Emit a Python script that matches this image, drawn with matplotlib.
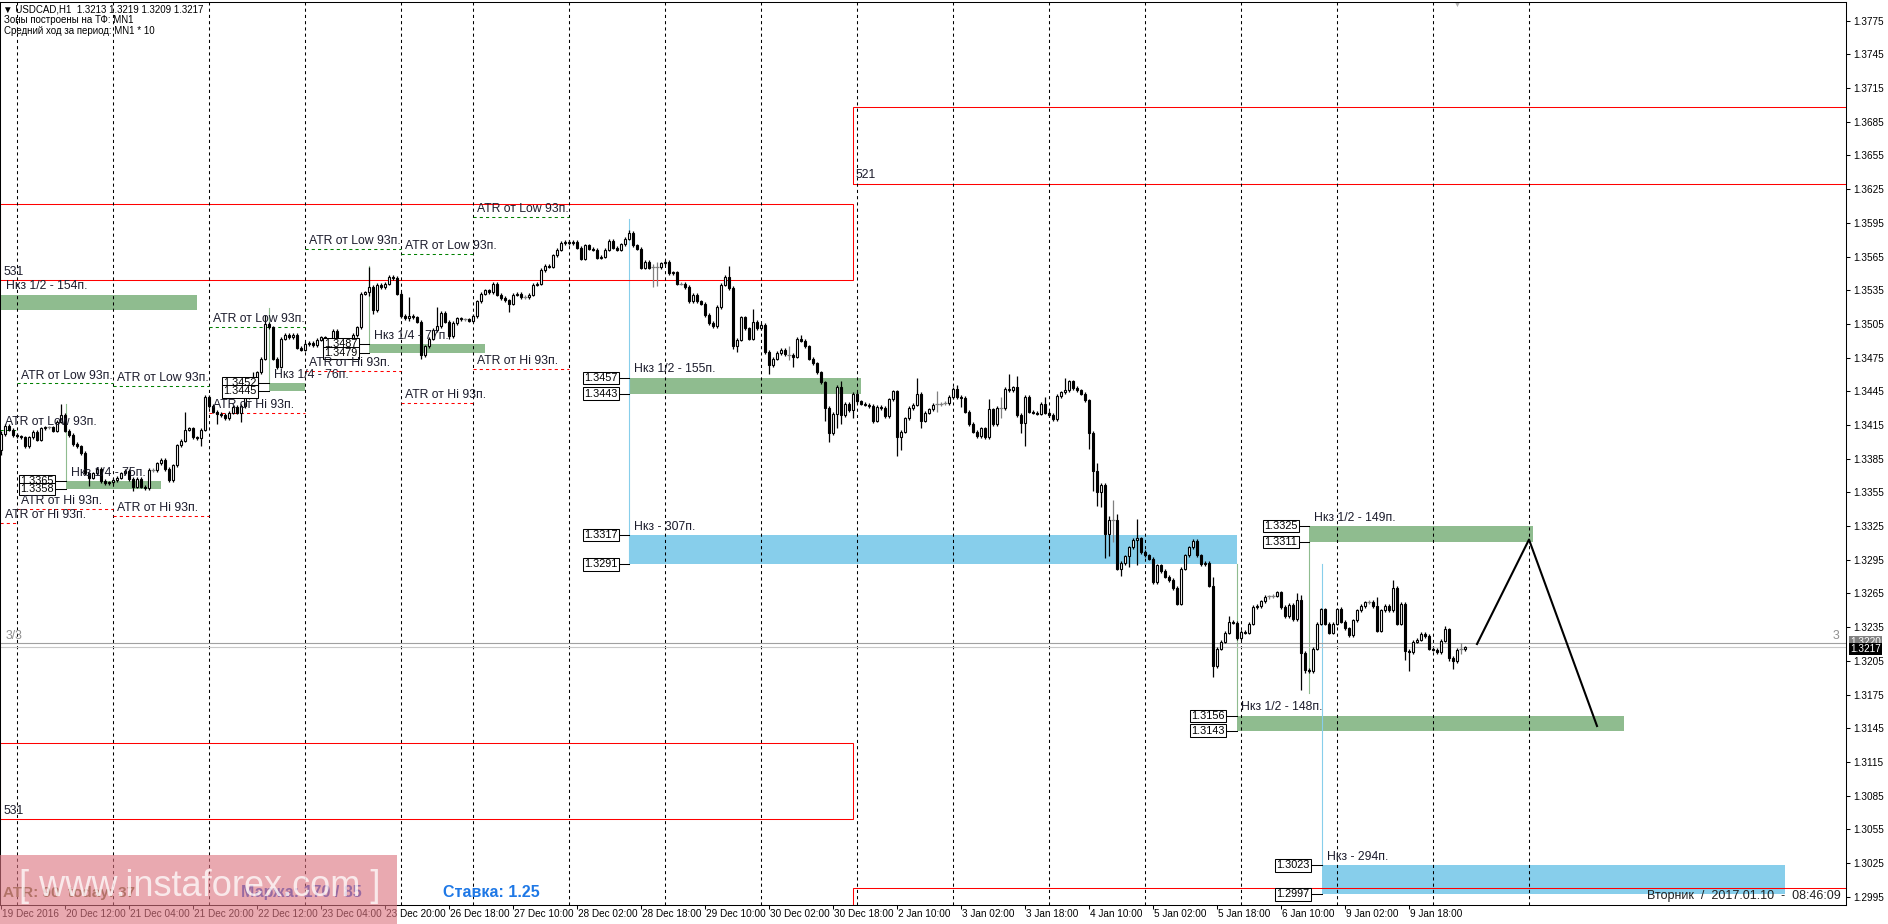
import numpy as np
from matplotlib import pyplot as plt
from matplotlib import rcParams
from matplotlib.patches import Rectangle

rcParams['font.family'] = ['Liberation Sans', 'DejaVu Sans']
rcParams['font.size'] = 8
rcParams['axes.linewidth'] = 0.75

W, H = 1888, 924
BASE = 1.3

# H1 bars 19 Dec 2016 20:00 .. 10 Jan 2017 08:00, close in pips above 1.3000
first_open = 393
close_pips = [
    407, 414, 411, 406, 405, 404, 396, 404, 409, 402,
    412, 413, 413, 410, 418, 424, 410, 406, 398, 396,
    390, 372, 368, 372, 376, 365, 363, 364, 366, 368,
    372, 374, 367, 360, 367, 360, 359, 375, 375, 381,
    384, 376, 366, 379, 397, 401, 411, 412, 404, 403,
    411, 440, 432, 427, 425, 424, 421, 426, 431, 426,
    432, 440, 446, 449, 462, 474, 505, 502, 474, 467,
    492, 495, 493, 495, 484, 482, 487, 488, 486, 491,
    493, 484, 482, 499, 490, 490, 488, 485, 495, 502,
    532, 533, 538, 517, 540, 538, 541, 547, 546, 532,
    512, 510, 512, 511, 507, 477, 485, 492, 500, 503,
    515, 507, 494, 506, 510, 509, 509, 508, 512, 525,
    532, 535, 533, 541, 531, 528, 526, 523, 531, 532,
    529, 529, 531, 540, 541, 553, 557, 556, 566, 571,
    577, 578, 577, 578, 573, 563, 575, 572, 571, 564,
    565, 571, 579, 573, 571, 576, 581, 586, 575, 572,
    555, 560, 555, 555.4, 555.8, 559, 560, 550, 551, 541,
    541, 538, 525, 531, 525, 523, 513, 506, 503, 520,
    540, 547, 537, 485, 491, 511, 501, 492, 507, 501,
    504, 480, 468, 474, 479, 482, 478, 477.6, 476, 492,
    490, 485, 474, 470, 462, 453, 430, 408, 425, 449,
    424, 434, 428, 443, 436, 434, 433, 432, 419, 431,
    430, 423, 438, 445, 404, 409, 421, 430, 433, 443,
    419, 426, 429, 433, 433.4, 434, 434.5, 440, 447, 440,
    439, 427, 416, 409, 405, 412, 404, 429, 416, 430,
    430.3, 447, 446, 448.5, 424, 416.5, 440, 427, 426, 425,
    434, 426, 424, 420, 441, 444, 446, 454, 448, 446,
    443, 437, 408, 374, 355, 362, 318, 330, 330.3, 287,
    292, 298, 306, 313, 314, 302, 299, 296, 275, 290,
    285, 280, 277, 270, 256, 287, 299, 306, 312, 299,
    291, 292, 272, 200, 216, 222, 230, 240, 239, 225,
    231, 230, 238, 253, 254, 258, 262, 262.5, 263, 266,
    253, 245, 255, 242, 259, 212, 197, 196, 216, 238,
    251, 238, 230, 238, 251, 240, 234, 228, 241, 250,
    254, 257, 257.5, 254, 232, 250, 254, 250, 270, 238,
    256, 214, 213, 222, 224, 229, 227, 216, 215, 213,
    223, 233, 208, 205, 215, 215.3, 217,
]
# long shadows: bar -> (high, low) in pips
wick_pips = {
    0: (410, 388), 15: (434, 418), 22: (372, 361), 33: (367, 356), 36: (362, 357),
    46: (427, 400), 50: (411, 396), 54: (428, 416), 60: (432, 418), 63: (462, 446),
    66: (513, 474), 69: (474, 465), 92: (556, 530), 93: (540, 514), 102: (529, 508),
    105: (507, 474), 109: (520, 498), 112: (507, 492), 127: (526, 516), 157: (589, 580),
    163: (558, 538), 164: (560, 539), 182: (557, 535), 183: (537, 483), 184: (491, 480),
    188: (518, 491), 192: (480, 460), 197: (485, 473), 198: (478, 467), 200: (495, 489),
    206: (453, 419), 207: (430, 400), 209: (449, 412), 210: (454, 416), 213: (443, 421),
    218: (432, 417), 224: (445, 387), 225: (409, 393), 229: (457, 432), 230: (443, 412),
    234: (445, 427), 239: (451, 439), 240: (440, 431), 247: (438, 404), 250: (440, 421),
    252: (460, 444), 254: (459, 423), 255: (424, 408), 256: (440, 396), 261: (440, 425),
    266: (457, 443), 272: (437, 394), 273: (408, 356), 274: (381, 343), 275: (362, 342),
    276: (362, 297), 277: (334, 298), 278: (348, 311), 279: (336, 286), 280: (292, 281),
    282: (306, 289), 284: (331, 290), 288: (296, 273), 289: (290, 273), 294: (270, 255),
    298: (313, 306), 303: (280, 191), 304: (216, 200), 307: (245, 230), 324: (265, 242),
    325: (264, 179), 326: (212, 194), 327: (197, 194), 328: (216, 203), 335: (253, 240),
    344: (262, 232), 348: (277, 250), 351: (256, 206), 352: (214, 196), 361: (236, 223),
    362: (233, 205), 363: (208, 198), 365: (221, 211),
}

# date axis (one label every 16 bars) and price axis
tick_bars = [0, 16, 32, 48, 64, 80, 96, 112, 128, 144, 160, 176, 192, 208,
             224, 240, 256, 272, 288, 304, 320, 336, 352]
tick_dates = ['19 Dec 2016', '20 Dec 12:00', '21 Dec 04:00', '21 Dec 20:00',
              '22 Dec 12:00', '23 Dec 04:00', '23 Dec 20:00', '26 Dec 18:00',
              '27 Dec 10:00', '28 Dec 02:00', '28 Dec 18:00', '29 Dec 10:00',
              '30 Dec 02:00', '30 Dec 18:00', '2 Jan 10:00', '3 Jan 02:00',
              '3 Jan 18:00', '4 Jan 10:00', '5 Jan 02:00', '5 Jan 18:00',
              '6 Jan 10:00', '9 Jan 02:00', '9 Jan 18:00']
day_start_bars = [4, 28, 52, 76, 100, 118, 142, 166, 190, 214, 238, 262,
                  286, 310, 334, 358, 382]
price_ticks = [1.2995, 1.3025, 1.3055, 1.3085, 1.3115, 1.3145, 1.3175, 1.3205,
               1.3235, 1.3265, 1.3295, 1.3325, 1.3355, 1.3385, 1.3415, 1.3445,
               1.3475, 1.3505, 1.3535, 1.3565, 1.3595, 1.3625, 1.3655, 1.3685,
               1.3715, 1.3745, 1.3775]

# daily ATR projections
atr_start = [-0.25, 4, 28, 52, 76, 100, 118]
atr_end = [4, 28, 52, 76, 100, 118, 142]
atr_low = [1.3411, 1.3452, 1.3450, 1.3502, 1.3572, 1.3567, 1.3600]
atr_hi = [1.3328, 1.3340, 1.3334, 1.3426, 1.3463, 1.3435, 1.3465]

# monthly red boxes
box_x0 = [-0.25, 213, -0.25, 213]
box_x1 = [213, 480, 213, 480]
box_top = [1.3612, 1.3698, 1.3132, 1.3003]
box_bot = [1.3544, 1.3630, 1.3064, 1.2950]
box_name = ['531', '521', '531', '']

# control zones
zone_name = ['Нкз 1/2 - 154п.', 'Нкз 1/4 - 75п.', 'Нкз 1/4 - 76п.', 'Нкз 1/4 - 77п.',
             'Нкз 1/2 - 155п.', 'Нкз - 307п.', 'Нкз 1/2 - 149п.', 'Нкз 1/2 - 148п.',
             'Нкз - 294п.']
zone_x0 = [-0.25, 16.2, 67, 92.1, 157.1, 157.1, 327.1, 308.9, 330.2]
zone_x1 = [48.9, 40, 76, 121, 215, 308.9, 383, 405.75, 445.9]
zone_top = [1.3531, 1.3365, 1.3452, 1.3487, 1.3457, 1.3317, 1.3325, 1.3156, 1.3023]
zone_bot = [1.3517, 1.3358, 1.3445, 1.3479, 1.3443, 1.3291, 1.3311, 1.3143, 1.2997]
zone_blue = [False, False, False, False, False, True, False, False, True]
zone_tags = [False, True, True, True, True, True, True, True, True]
# thin vertical guide lines: bar, from, to
guide_bar = [16.2, 67, 92.1, 157.1, 327.1, 308.9, 330.2]
guide_p0 = [1.3434, 1.3519, 1.3557, 1.3598, 1.3311, 1.3291, 1.3291]
guide_p1 = [1.3365, 1.3452, 1.3487, 1.3291, 1.3176, 1.3156, 1.3023]
guide_blue = [False, False, False, True, False, False, True]

# projected path
path_bars = [369, 382, 399]
path_price = [1.3220, 1.3313, 1.3147]

GREEN = '#8fbc8f'
BLUE = '#87ceeb'
TXT = '#1c1c2c'
FS = 8.8

fig = plt.figure(figsize=(W / 100, H / 100), dpi=100)
ax = fig.add_axes([0, 19 / H, 1846 / W, 903 / H])
ax.set_xlim(-0.25, 461.25)
ax.set_ylim(1.298763, 1.379165)

# zones
for i in range(len(zone_name)):
    fc = BLUE if zone_blue[i] else GREEN
    ax.add_patch(Rectangle((zone_x0[i], zone_bot[i]), zone_x1[i] - zone_x0[i],
                           zone_top[i] - zone_bot[i], fc=fc, ec='none', zorder=1))
    ax.annotate(zone_name[i], (max(zone_x0[i], 0), zone_top[i]), xytext=(3.5, 4),
                textcoords='offset points', fontsize=FS, color=TXT, zorder=6)
    if zone_tags[i]:
        for p in (zone_top[i], zone_bot[i]):
            ax.plot([zone_x0[i] - 2.5, zone_x0[i]], [p, p], color='black', lw=0.75, zorder=5)
            ax.annotate('%.4f' % p, (zone_x0[i] - 2.5, p), xytext=(-1.5, 0),
                        textcoords='offset points', ha='right', va='center', fontsize=7.8,
                        color='black', zorder=6,
                        bbox=dict(boxstyle='square,pad=0.12', fc='white', ec='black', lw=0.75))
for b, p0, p1, bl in zip(guide_bar, guide_p0, guide_p1, guide_blue):
    ax.plot([b, b], [p0, p1], color=BLUE if bl else '#8fbc8f', lw=0.8, zorder=2)

# red boxes
for i in range(len(box_x0)):
    ax.add_patch(Rectangle((box_x0[i], box_bot[i]), box_x1[i] - box_x0[i],
                           box_top[i] - box_bot[i], fill=False, ec='#ff0000', lw=0.75, zorder=2))
    if box_name[i]:
        ax.annotate(box_name[i], (max(box_x0[i], 0), box_bot[i]), xytext=(1.5, 4),
                    textcoords='offset points', fontsize=FS, color=TXT, zorder=6)

# day separators
for b in day_start_bars:
    ax.axvline(b, color='black', lw=0.75, ls=(0, (3, 3)), zorder=2)

# ATR lines
for s, e, lo_line, hi_line in zip(atr_start, atr_end, atr_low, atr_hi):
    ax.plot([s, e], [lo_line, lo_line], color='#008000', lw=0.75, ls=(0, (3, 3)), zorder=2)
    ax.plot([s, e], [hi_line, hi_line], color='#ff0000', lw=0.75, ls=(0, (3, 3)), zorder=2)
    ax.annotate('ATR от Low 93п.', (max(s, 0), lo_line), xytext=(3, 3.5),
                textcoords='offset points', fontsize=FS, color=TXT, zorder=6)
    ax.annotate('ATR от Hi 93п.', (max(s, 0), hi_line), xytext=(3, 3.5),
                textcoords='offset points', fontsize=FS, color=TXT, zorder=6)

# candles
c = BASE + np.array(close_pips) / 1e4
o = np.r_[BASE + first_open / 1e4, c[:-1]]
hi = np.maximum(o, c) + 1.5e-4
lo = np.minimum(o, c) - 1.5e-4
for b, (h, l) in wick_pips.items():
    hi[b] = max(hi[b], BASE + h / 1e4)
    lo[b] = min(lo[b], BASE + l / 1e4)
x = np.arange(len(c))
doji = np.abs(c - o) < 0.7e-4
up = (c > o) & ~doji
dn = (c < o) & ~doji
ax.vlines(x[~doji], lo[~doji], hi[~doji], color='black', lw=0.9, zorder=3)
ax.vlines(x[doji], lo[doji], hi[doji], color='#808080', lw=0.9, zorder=3)
ax.hlines(c[doji], x[doji] - 0.45, x[doji] + 0.45, color='#808080', lw=0.9, zorder=3)
ax.bar(x[up], (c - o)[up], bottom=o[up], width=0.7, color='white',
       edgecolor='black', lw=0.8, zorder=4)
ax.bar(x[dn], (o - c)[dn], bottom=c[dn], width=0.7, color='black',
       edgecolor='black', lw=0.8, zorder=4)

# ask / bid lines
ax.axhline(1.3221, color='#a0a0a0', lw=0.8, zorder=2)
ax.axhline(c[-1], color='#c8c8c8', lw=0.8, zorder=2)
ax.annotate('3/3', (0, 1.3221), xytext=(3, 3), textcoords='offset points',
            fontsize=FS, color='#909090')
ax.annotate('3', (1, 1.3221), xycoords=('axes fraction', 'data'), xytext=(-10, 3),
            textcoords='offset points', fontsize=FS, color='#909090', annotation_clip=False)

# projection
ax.plot(path_bars, path_price, color='black', lw=1.5, zorder=5)

# axes
ax.yaxis.tick_right()
ax.set_yticks(price_ticks)
ax.set_yticklabels(['%.4f' % p for p in price_ticks], fontsize=7.2)
ax.tick_params(axis='y', length=3, width=0.75, pad=2)
ax.set_xticks(tick_bars)
ax.set_xticklabels([])
ax.tick_params(axis='x', length=3, width=0.75)
for b, lab in zip(tick_bars, tick_dates):
    ax.annotate(lab, (b, 0), xycoords=('data', 'axes fraction'), xytext=(1, -3),
                textcoords='offset points', ha='left', va='top', fontsize=7.2,
                annotation_clip=False)
ax.annotate('1.3220', (1, 1.3221), xycoords=('axes fraction', 'data'), xytext=(3, 1),
            textcoords='offset points', ha='left', va='center', fontsize=7.2, color='white',
            bbox=dict(boxstyle='square,pad=0.1', fc='#808080', ec='none'), annotation_clip=False)
ax.annotate('1.3217', (1, c[-1]), xycoords=('axes fraction', 'data'), xytext=(3, -1),
            textcoords='offset points', ha='left', va='center', fontsize=7.2, color='white',
            bbox=dict(boxstyle='square,pad=0.1', fc='black', ec='none'), annotation_clip=False)

# header
fig.text(3 / W, 1 - 9 / H, '▼ USDCAD,H1  1.3213 1.3219 1.3209 1.3217', fontsize=7, va='center')
fig.text(4 / W, 1 - 20 / H, 'Зоны построены на ТФ: MN1', fontsize=7, va='center')
fig.text(4 / W, 1 - 31 / H, 'Средний ход за период: MN1 * 10', fontsize=7, va='center')
fig.text(1457 / W, 1 - 5 / H, '▼', fontsize=5, color='#b0b0b0', ha='center', va='center')
fig.text(1841 / W, 1 - 899 / H, 'Вторник  /  2017.01.10  -  08:46:09', fontsize=9,
         color='#202020', ha='right', va='baseline', zorder=9)

# info line and watermark
fig.text(3 / W, 1 - 897 / H, 'ATR: 90  today: 37', fontsize=11, fontweight='bold',
         color='#707040', va='baseline', zorder=9)
fig.text(241 / W, 1 - 897 / H, 'Маржа: 170 / 85', fontsize=11.5, fontweight='bold',
         color='#2a5ad8', va='baseline', zorder=9)
fig.text(443 / W, 1 - 897 / H, 'Ставка: 1.25', fontsize=11.5, fontweight='bold',
         color='#1e78e6', va='baseline', zorder=9)
fig.patches.append(Rectangle((0, 0), 397 / W, 69 / H, transform=fig.transFigure,
                             fc='#dc7480', alpha=0.62, ec='none', zorder=10))
fig.text(200 / W, 1 - 886 / H, '[ www.instaforex.com ]', fontsize=26, color='white',
         alpha=0.75, ha='center', va='center', zorder=11)

fig.savefig('out.png', dpi=100)
